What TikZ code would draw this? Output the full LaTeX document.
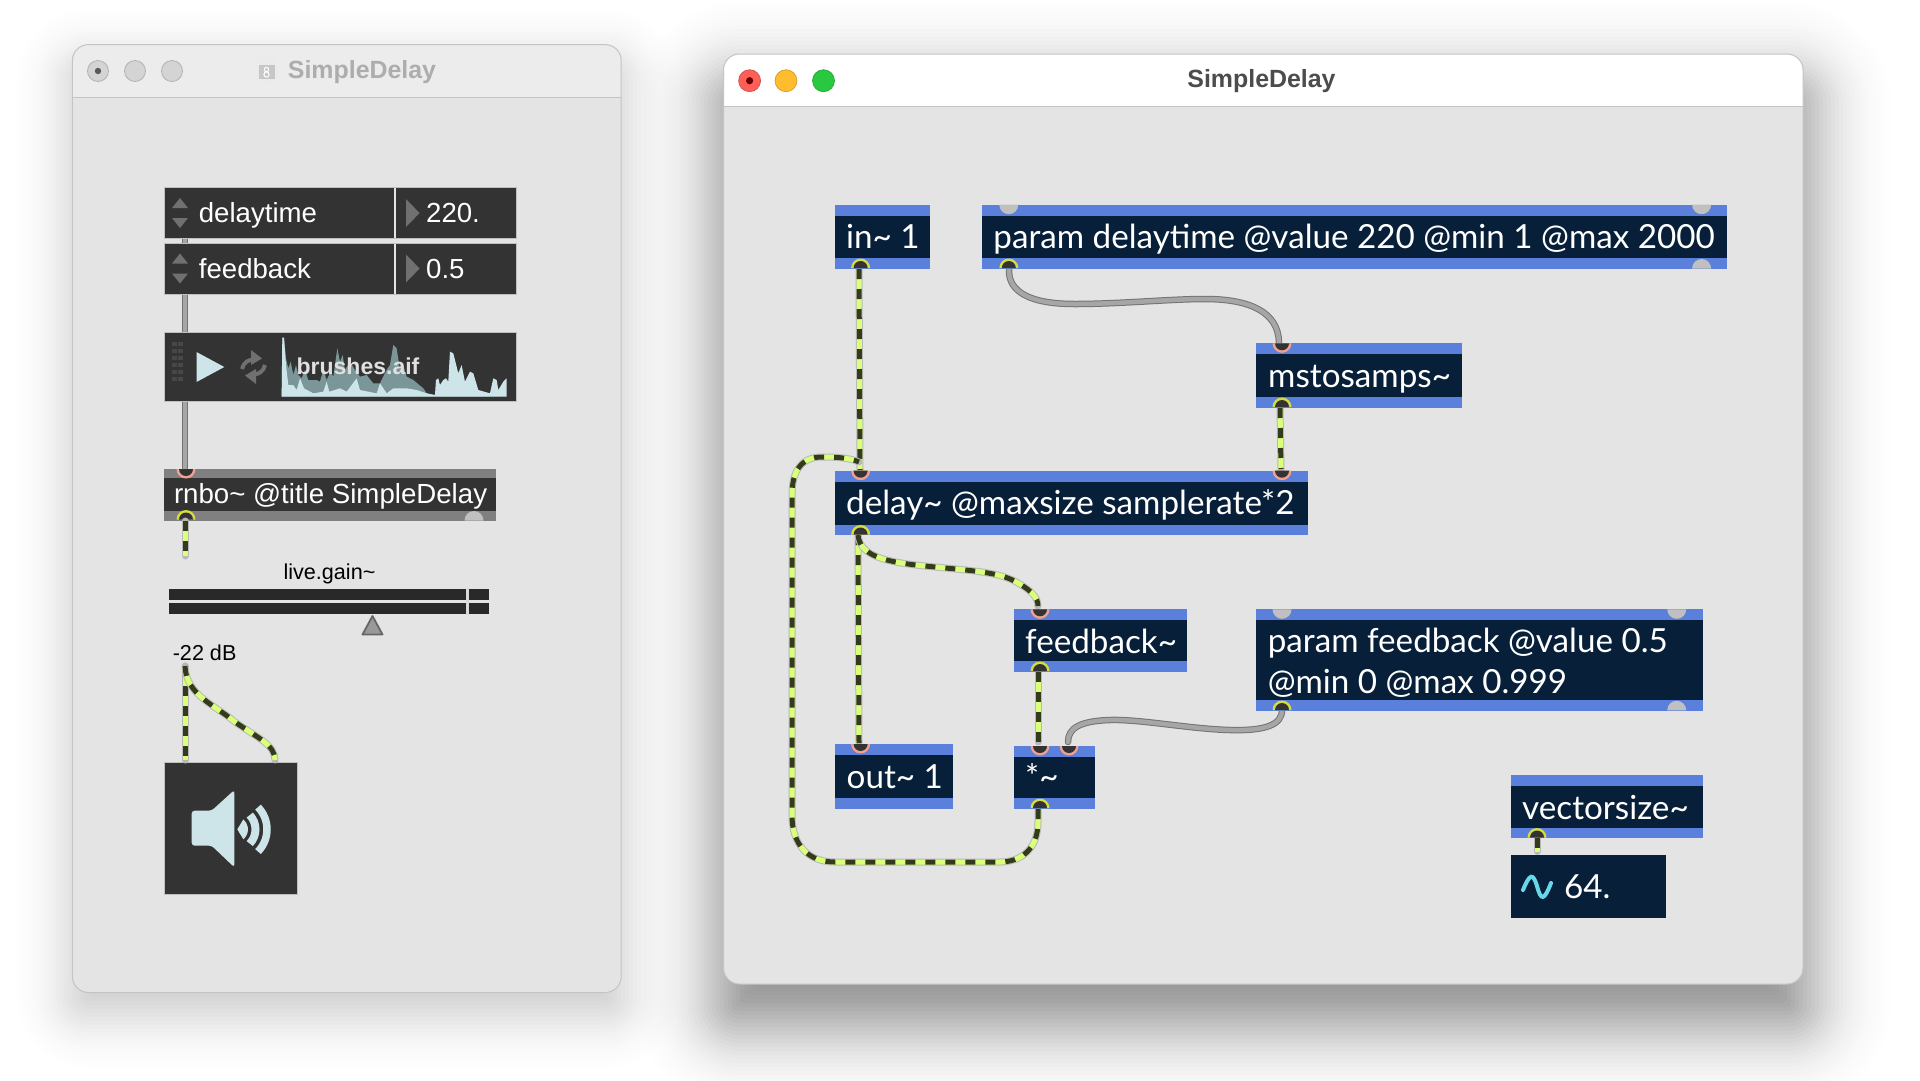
\documentclass[tikz,border=0pt]{standalone}
\usepackage{fontspec}
\setmainfont{Liberation Sans}
\newfontfamily\latofont{Lato}
\newcommand\tld{\textasciitilde}
\definecolor{winbody}{HTML}{E4E4E4}
\definecolor{winbar}{HTML}{ECECEC}
\definecolor{winedge}{HTML}{C4C4C4}
\definecolor{objblue}{HTML}{5A80DB}
\definecolor{objdark}{HTML}{071F38}
\definecolor{uidark}{HTML}{333333}
\definecolor{uiband}{HTML}{808080}
\definecolor{uiarrow}{HTML}{707070}
\definecolor{ice}{HTML}{CDE5E8}
\definecolor{icedim}{HTML}{7A9698}
\definecolor{lime}{HTML}{DAFF78}
\definecolor{cabledark}{HTML}{343A1E}
\definecolor{cableedge}{HTML}{B8B8B8}
\definecolor{salmon}{HTML}{F2A090}
\definecolor{portyellow}{HTML}{D6DC40}
\definecolor{portgrey}{HTML}{C0C0C0}
\definecolor{macred}{HTML}{FF5F57}
\definecolor{macamber}{HTML}{FEBC2E}
\definecolor{macgreen}{HTML}{28C840}
\definecolor{sinecyan}{HTML}{66D8E8}
\tikzset{
  sigA/.style={draw=cableedge,line width=7pt,line cap=round},
  sigB/.style={draw=lime,line width=5pt},
  sigC/.style={draw=cabledark,line width=5pt,dash pattern=on 10pt off 10pt},
  ctlA/.style={draw=gray!90!black,line width=6.5pt,line cap=round},
  ctlB/.style={draw=gray!70,line width=4.5pt,line cap=round},
  blueband/.style={fill=objblue,draw=none,inner sep=0pt,outer sep=0pt},
  greyband/.style={fill=uiband,draw=none,inner sep=0pt,outer sep=0pt},
  uibox/.style={fill=uidark,draw=black!25,line width=.6pt,inner sep=0pt,outer sep=0pt},
  objtext/.style={text=white,inner sep=0pt,font=\latofont\fontsize{33.2}{38}\selectfont,anchor=base west},
  uitext/.style={text=white,inner sep=0pt,font=\fontsize{27.6}{32}\selectfont,anchor=base west},
  blacktext/.style={text=black,inner sep=0pt,font=\fontsize{21.6}{26}\selectfont,anchor=base},
  wintitle/.style={inner sep=0pt,font=\bfseries\fontsize{24.9}{30}\selectfont,anchor=center},
}
\newcommand\sigcable[1]{\path[sigA] #1; \path[sigB] #1; \path[sigC] #1;}
\newcommand\ctlcable[1]{\path[ctlA] #1; \path[ctlB] #1;}
% name x1 y1 x2 y2
\newcommand\maxobj[5]{%
  \node[blueband,minimum width={(#4-#2)*1pt},minimum height={(#5-#3)*1pt}] (#1) at ({(#2+#4)/2},{(#3+#5)/2}) {};
  \fill[objdark] (#2,#3+11) rectangle (#4,#5-10.8);}
\newcommand\inport[2]{%
  \fill[salmon] (#1-9.5,#2) arc[start angle=180,end angle=360,radius=9.5pt] -- cycle;
  \fill[uidark] (#1-7,#2) arc[start angle=180,end angle=360,radius=7pt] -- cycle;}
\newcommand\outport[2]{%
  \fill[portyellow] (#1-9.5,#2) arc[start angle=180,end angle=0,radius=9.5pt] -- cycle;
  \fill[uidark] (#1-7,#2) arc[start angle=180,end angle=0,radius=7pt] -- cycle;}
\newcommand\greyin[2]{\fill[portgrey] (#1-9.5,#2) arc[start angle=180,end angle=360,radius=9.5pt] -- cycle;}
\newcommand\greyout[2]{\fill[portgrey] (#1-9.5,#2) arc[start angle=180,end angle=0,radius=9.5pt] -- cycle;}
% x1 y1 x2 y2 offset extent layers peak-opacity sigma
\newcommand\softshadow[9]{%
  \foreach \k in {0,1,...,#7}{%
    \pgfmathsetmacro\rr{\k*4-#6}%
    \pgfmathsetmacro\opa{#8*exp(-(\rr/#9)*(\rr/#9))}%
    \pgfmathsetmacro\crad{max(4,16+\rr)}%
    \fill[black,opacity=\opa,rounded corners=\crad pt]
      ({#1-\rr},{#2+#5-\rr}) rectangle ({#3+\rr},{#4+#5+\rr});}}
\begin{document}
\begin{tikzpicture}[x=1pt,y=-1pt]
\useasboundingbox (0,0) rectangle (1920,1080);
\fill[white] (0,0) rectangle (1920,1080);

% ---------- shadows
\softshadow{72.4}{44.6}{621.2}{992.5}{20}{84}{42}{0.0133}{42}
\softshadow{723.5}{54}{1803}{984}{35}{108}{54}{0.021}{58}

% ---------- left window
\fill[winbody,rounded corners=16pt] (72.4,44.6) rectangle (621.2,992.5);
\begin{scope}
  \clip (60,40) rectangle (640,97);
  \fill[winbar,rounded corners=16pt] (72.4,44.6) rectangle (621.2,992.5);
\end{scope}
\draw[winedge,line width=1pt] (72.4,97) -- (621.2,97);
\draw[winedge,line width=1pt,rounded corners=16pt] (72.4,44.6) rectangle (621.2,992.5);
\foreach \cx in {98,135,172}{\draw[fill=black!17,draw=black!30,line width=.8pt] (\cx,71) circle[radius=10.5pt];}
\fill[black!65] (98,71) circle[radius=3.2pt];
\fill[white!92!black] (257,56) rectangle (276,83);
\fill[black!22] (258.5,65) rectangle (274.5,79);
\draw[white,line width=1pt] (266.5,69.5) circle[radius=2.2pt] (266.5,74.5) circle[radius=2.6pt];
\node[wintitle,text=black!32] (leftTitle) at (362,72) {SimpleDelay};

% left control cable (behind the boxes)
\coordinate (dialOut) at (185,238);
\coordinate (rnboIn) at (185,468);
\ctlcable{(dialOut) -- (rnboIn)}

% dials
\node[uibox,minimum width=352.4pt,minimum height=51pt] (dialA) at (340.2,213) {};
\node[uibox,minimum width=352.4pt,minimum height=51pt] (dialB) at (340.2,268.5) {};
\foreach \yy in {213,268.5}{
  \fill[white!90!black] (393.8,\yy-25) rectangle (396,\yy+25);
  \fill[uiarrow] (172,\yy-5) -- (188,\yy-5) -- (180,\yy-15) -- cycle;
  \fill[uiarrow] (172,\yy+5) -- (188,\yy+5) -- (180,\yy+15) -- cycle;
  \fill[uiarrow] (406,\yy-14) -- (419.6,\yy) -- (406,\yy+14) -- cycle;
}
\node[uitext] (dialAlabel) at (198.7,222.5) {delaytime};
\node[uitext] (dialAvalue) at (426,222.5) {220.};
\node[uitext] (dialBlabel) at (198.7,278) {feedback};
\node[uitext] (dialBvalue) at (426,278) {0.5};

% playlist
\node[uibox,minimum width=352.4pt,minimum height=69pt] (playlist) at (340.2,367) {};
\foreach \yy in {344,351,358,365,372,379}{
  \foreach \xx in {174.3,180.5}{\fill[black!72] (\xx-2.3,\yy-2.3) rectangle (\xx+2.3,\yy+2.3);}}
\fill[ice] (196.5,352) -- (224.3,367) -- (196.5,382) -- cycle;
\draw[uiarrow,line width=4pt] (242,369) arc[start angle=170,end angle=80,radius=11.5pt];
\fill[uiarrow] (251,350) -- (262,358.5) -- (251,365) -- cycle;
\draw[uiarrow,line width=4pt] (265,365) arc[start angle=-10,end angle=-100,radius=11.5pt];
\fill[uiarrow] (256,369) -- (245,375.5) -- (256,384) -- cycle;
\begin{scope}[shift={(160,325)},x=.3333pt,y=-.3333pt]
\fill[icedim] (365,215) -- (367,38) -- (372,38) -- (378,100) -- (385,130) -- (392,110) -- (400,150) -- (408,120) -- (415,150) -- (425,160) -- (435,135) -- (445,165) -- (470,165) -- (480,170) -- (490,135) -- (500,165) -- (512,140) -- (520,155) -- (532,70) -- (540,110) -- (548,90) -- (555,135) -- (570,110) -- (585,135) -- (600,155) -- (620,150) -- (640,175) -- (660,175) -- (672,150) -- (680,135) -- (690,120) -- (700,60) -- (710,70) -- (720,135) -- (730,120) -- (740,155) -- (760,165) -- (790,190) -- (800,205) -- (825,210) -- (1040,215) -- cycle;
\fill[ice] (365,215) -- (367,38) -- (372,38) -- (378,120) -- (385,180) -- (400,180) -- (410,195) -- (420,160) -- (432,190) -- (460,205) -- (490,200) -- (500,170) -- (508,200) -- (540,190) -- (560,200) -- (590,160) -- (600,195) -- (650,205) -- (660,175) -- (680,205) -- (700,190) -- (740,190) -- (770,195) -- (800,205) -- (825,210) -- (828,165) -- (835,160) -- (840,180) -- (850,165) -- (858,160) -- (865,170) -- (870,80) -- (880,85) -- (895,145) -- (905,120) -- (915,170) -- (930,140) -- (940,145) -- (955,195) -- (990,205) -- (1000,160) -- (1010,165) -- (1015,195) -- (1030,170) -- (1040,160) -- (1040,215) -- cycle;
\end{scope}
\node[inner sep=0pt,text=white!88!black,font=\bfseries\fontsize{23}{28}\selectfont,anchor=center] (playname) at (358,366) {brushes.aif};

% rnbo~
\node[greyband,minimum width=331.8pt,minimum height=51.7pt] (rnbo) at (329.9,494.85) {};
\fill[uidark] (164,478) rectangle (495.8,511.4);
\node[uitext,font=\fontsize{27.65}{32}\selectfont] (rnboT) at (173.8,503.6) {rnbo\tld\ @title SimpleDelay};
\inport{186}{469}
\outport{186}{519.5}
\greyout{474}{520.5}

% live.gain~
\node[blacktext] (gainT) at (329.5,579) {live.gain\tld};
\node[fill=black!84,draw=none,minimum width=320.5pt,minimum height=11.5pt,inner sep=0pt] (meterA) at (329.2,594.3) {};
\node[fill=black!84,draw=none,minimum width=320.5pt,minimum height=11.5pt,inner sep=0pt] (meterB) at (329.2,608.3) {};
\fill[white!85!black] (466.3,588) rectangle (468.6,615);
\draw[fill=black!40,draw=black!60,line width=1.8pt,line join=round] (372.5,616) -- (362.5,634.5) -- (382.5,634.5) -- cycle;
\node[blacktext,anchor=base west] (gainDb) at (172.6,660) {-22 dB};

% ezdac~
\node[uibox,minimum width=133pt,minimum height=132.6pt] (dac) at (230.5,828.3) {};
\begin{scope}[shift={(180,780)},x=.3333pt,y=-.3333pt]
\fill[ice,rounded corners=3pt] (35,92) -- (35,197) -- (95,197) -- (163,262) -- (163,30) -- (95,92) -- cycle;
\draw[ice,line width=8pt] (165,148) ++(-44:20.5pt) arc[start angle=-44,end angle=44,radius=20.5pt];
\draw[ice,line width=7.5pt] (165,148) ++(-44:32pt) arc[start angle=-44,end angle=44,radius=32pt];
\fill[ice] (165,148) ++(-50:13pt) arc[start angle=-50,end angle=50,radius=13pt] -- (172,148) -- cycle;
\end{scope}

% signal cables, left window
\coordinate (rnboOut) at (185,521);
\coordinate (gainEnd) at (185,556);
\coordinate (gainOut) at (185,666);
\coordinate (dacL) at (185,760);
\coordinate (dacR) at (275,760);
\sigcable{(rnboOut) -- (gainEnd)}
\sigcable{(gainOut) -- (dacL)}
\sigcable{(gainOut) .. controls (186,695) and (215,705) .. (235,722) .. controls (258,738) and (275,745) .. (dacR)}

% ---------- right window
\fill[winbody,rounded corners=16pt] (723.5,54) rectangle (1803,984);
\begin{scope}
  \clip (710,40) rectangle (1820,106.7);
  \fill[white,rounded corners=16pt] (723.5,54) rectangle (1803,984);
\end{scope}
\draw[winedge,line width=1pt] (723.5,106.7) -- (1803,106.7);
\draw[winedge,line width=1pt,rounded corners=16pt] (723.5,54) rectangle (1803,984);
\draw[fill=macred,draw=macred!80!black,line width=.6pt] (749.6,80.7) circle[radius=11pt];
\fill[red!40!black] (749.6,80.7) circle[radius=3.6pt];
\draw[fill=macamber,draw=macamber!80!black,line width=.6pt] (786,80.7) circle[radius=11pt];
\draw[fill=macgreen,draw=macgreen!80!black,line width=.6pt] (823.5,80.7) circle[radius=11pt];
\node[wintitle,text=black!70] (rightTitle) at (1261.5,81) {SimpleDelay};

% cable end points on the right
\coordinate (inOut) at (859,269);
\coordinate (delayIn) at (860,470);
\coordinate (pdOut) at (1009,269);
\coordinate (msIn) at (1279,342);
\coordinate (msOut) at (1280,408);
\coordinate (delayIn2) at (1281,469);
\coordinate (delayOut) at (858,535);
\coordinate (outIn) at (859,743);
\coordinate (fbIn) at (1038,606);
\coordinate (fbOut) at (1038,672);
\coordinate (mulInA) at (1038,742);
\coordinate (mulInB) at (1068,742);
\coordinate (mulOut) at (1038,809);
\coordinate (pfOut) at (1282,710);
\coordinate (vsOut) at (1537,838);
\coordinate (numIn) at (1537,851.5);

\sigcable{(inOut) -- (delayIn)}
\sigcable{(msOut) -- (delayIn2)}
\sigcable{(delayOut) -- (outIn)}
\sigcable{(fbOut) -- (mulInA)}
\sigcable{(delayOut) .. controls (860,556) and (885,562) .. (925,566) .. controls (975,571) and (1000,572) .. (1018,583) .. controls (1032,591) and (1038,598) .. (fbIn)}
\sigcable{(mulOut) -- (1038,822) .. controls (1038,850) and (1020,862) .. (1000,862) -- (835,862) .. controls (808,862) and (792,845) .. (792,815) -- (792,495) .. controls (792,470) and (802,457) .. (822,457) .. controls (838,457) and (850,458) .. (859,462)}
\sigcable{(vsOut) -- (numIn)}
\ctlcable{(pdOut) .. controls (1008,292) and (1030,304) .. (1075,304) .. controls (1120,304) and (1170,299) .. (1205,299) .. controls (1250,299) and (1278,312) .. (msIn)}
\ctlcable{(mulInB) .. controls (1068,728) and (1080,721) .. (1110,720) .. controls (1140,719) and (1190,729) .. (1230,730) .. controls (1265,731) and (1282,725) .. (pfOut)}

% objects
\maxobj{inObj}{834.5}{204.7}{930.4}{269}
\maxobj{pdObj}{982}{204.7}{1727}{269}
\maxobj{msObj}{1256}{343.3}{1462.4}{407.7}
\maxobj{delayObj}{834.5}{470.7}{1307.6}{535.3}
\maxobj{fbObj}{1013.9}{609.3}{1187.3}{671.7}
\maxobj{pfObj}{1256}{609.3}{1702.8}{710.7}
\maxobj{outObj}{834.5}{744}{952.7}{808.7}
\maxobj{mulObj}{1013.9}{746}{1095}{808.7}
\maxobj{vsObj}{1510.8}{775.3}{1702.8}{838.3}
\node[fill=objdark,inner sep=0pt,minimum width=155.2pt,minimum height=62.7pt] (numObj) at (1588.4,886.35) {};

\node[objtext] (inT) at (846,248) {in\tld\ 1};
\node[objtext] (pdT) at (993.2,248) {param delaytime @value 220 @min 1 @max 2000};
\node[objtext] (msT) at (1268,387) {mstosamps\tld};
\node[objtext] (delayT) at (846,514.3) {delay\tld\ @maxsize samplerate*2};
\node[objtext] (fbT) at (1025,653) {feedback\tld};
\node[objtext] (pfT) at (1267.6,652.7) {param feedback @value 0.5};
\node[objtext] (pfT2) at (1267.6,693.3) {@min 0 @max 0.999};
\node[objtext] (outT) at (846.5,788) {out\tld\ 1};
\node[objtext] (mulT) at (1025,788) {*\tld};
\node[objtext] (vsT) at (1522,819) {vectorsize\tld};
\node[objtext] (numT) at (1564,898) {64.};
\draw[sinecyan,line width=4pt,line cap=round] (1523,890) .. controls (1530,873) and (1533,873) .. (1537,886) .. controls (1541,901) and (1544,901) .. (1551,883);

% ports
\outport{860.6}{268}
\greyin{1008.8}{204.7}
\outport{1008.8}{268}
\greyin{1701.6}{204.7}
\greyout{1701.6}{268.5}
\inport{1282}{343.3}
\outport{1282}{407}
\inport{860.6}{470.7}
\inport{1282}{470.7}
\outport{860.6}{534.5}
\inport{1040}{609.3}
\outport{1040}{671}
\greyin{1282}{609.3}
\greyin{1676.7}{609.3}
\outport{1282}{710}
\greyout{1676.7}{710.3}
\inport{860.6}{744}
\inport{1040}{746}
\inport{1069}{746}
\outport{1040}{808}
\outport{1537}{837.5}
\end{tikzpicture}
\end{document}
